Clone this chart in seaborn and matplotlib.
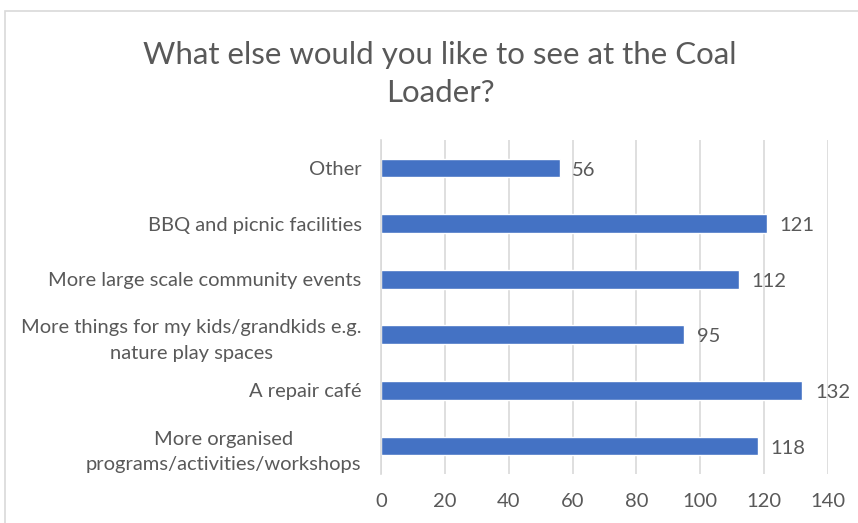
import pandas as pd
import seaborn as sns
import matplotlib.pyplot as plt
from matplotlib.patches import Rectangle

sns.set_style("white")
plt.rcParams['font.family'] = ['Lato', 'DejaVu Sans']

# survey answers, top to bottom as shown
categories = [
    "Other",
    "BBQ and picnic facilities",
    "More large scale community events",
    "More things for my kids/grandkids e.g.\nnature play spaces",
    "A repair café",
    "More organised\nprograms/activities/workshops",
]
counts = [56, 121, 112, 95, 132, 118]
xticks = [0, 20, 40, 60, 80, 100, 120, 140]

df = pd.DataFrame({"Answer": categories, "Count": counts})

text_col = "#595959"
grid_col = "#D9D9D9"

fig = plt.figure(figsize=(8.58, 5.23), dpi=100)
ax = fig.add_axes([0.444, 0.094, 0.521, 0.638])

sns.barplot(data=df, x="Count", y="Answer", orient="h", color="#4472C4",
            saturation=1, width=0.34, ax=ax)

ax.set_xlim(0, 140)
ax.set_xticks(xticks)
ax.grid(axis="x", color=grid_col, linewidth=1.2)
ax.set_axisbelow(True)
for s in ["top", "right", "bottom"]:
    ax.spines[s].set_visible(False)
ax.spines["left"].set_color(grid_col)
ax.spines["left"].set_linewidth(1.2)
ax.tick_params(axis="both", length=0, labelsize=14.5, labelcolor=text_col)
ax.tick_params(axis="x", pad=14)
ax.tick_params(axis="y", pad=14)
ax.set_xlabel("")
ax.set_ylabel("")
for lbl in ax.get_yticklabels():
    lbl.set_horizontalalignment("right")
    lbl.set_multialignment("center")
    lbl.set_linespacing(1.6)

for i, v in enumerate(counts):
    ax.annotate(str(v), xy=(v, i), xytext=(9, -1.5), textcoords="offset points",
                va="center", ha="left", fontsize=14.5, color=text_col)

fig.text(0.513, 0.859, "What else would you like to see at the Coal\nLoader?",
         ha="center", va="center", fontsize=22.5, color=text_col,
         linespacing=1.45)

fig.patches.append(Rectangle((0.006, -0.05), 1.1, 1.029, transform=fig.transFigure,
                             fill=False, edgecolor=grid_col, linewidth=1.2))

plt.savefig("out.png", dpi=100)
